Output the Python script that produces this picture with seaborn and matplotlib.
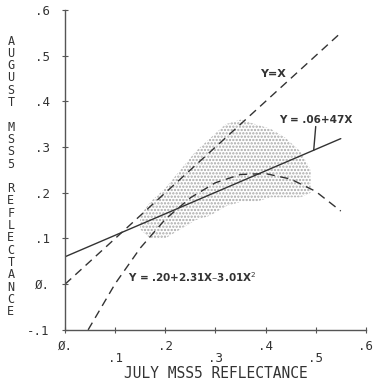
import numpy as np
import pandas as pd
import matplotlib
matplotlib.use("Agg")
import matplotlib.pyplot as plt
import seaborn as sns

# data
diag_x = [0.0, 0.55]
diag_y = [0.0, 0.55]

reg_x = [0.0, 0.55]
reg_y = [0.06, 0.06 + 0.47 * 0.55]

quad_x = [0.046, 0.10, 0.15, 0.20, 0.25, 0.30, 0.35, 0.40, 0.45, 0.50, 0.55]
quad_y = [-0.100, 0.001, 0.079, 0.142, 0.189, 0.222, 0.240, 0.242, 0.230, 0.203, 0.160]

# envelope of the stippled point cloud
stip_x = [0.15, 0.17, 0.20, 0.23, 0.26, 0.29, 0.32, 0.35, 0.38, 0.41, 0.44, 0.47, 0.49]
stip_lo = [0.12, 0.10, 0.10, 0.12, 0.14, 0.15, 0.17, 0.18, 0.18, 0.19, 0.19, 0.19, 0.20]
stip_hi = [0.15, 0.18, 0.21, 0.25, 0.29, 0.32, 0.35, 0.36, 0.35, 0.34, 0.32, 0.29, 0.25]

xticks = [0.0, 0.1, 0.2, 0.3, 0.4, 0.5, 0.6]
xticklabels = ["Ø.", "\n.1", ".2", "\n.3", ".4", "\n.5", ".6"]
yticks = [-0.1, 0.0, 0.1, 0.2, 0.3, 0.4, 0.5, 0.6]
yticklabels = ["-.1", "Ø.", ".1", ".2", ".3", ".4", ".5", ".6"]

sns.set_style("ticks")
plt.rcParams["hatch.linewidth"] = 1.1
mono = "DejaVu Sans Mono"
narrow = ["Liberation Sans Narrow", "DejaVu Sans"]
ink = "#333333"

fig = plt.figure(figsize=(3.76, 3.84), dpi=100)
ax = fig.add_axes([0.173, 0.141, 0.800, 0.833])

# stipple
ax.fill_between(stip_x, stip_lo, stip_hi, facecolor="none", edgecolor="#a8a8a8",
                hatch=".....", linewidth=0)

df_d = pd.DataFrame({"x": diag_x, "y": diag_y})
df_r = pd.DataFrame({"x": reg_x, "y": reg_y})
df_q = pd.DataFrame({"x": quad_x, "y": quad_y})
sns.lineplot(data=df_d, x="x", y="y", ax=ax, color=ink, lw=1.0, sort=False)
ax.lines[-1].set_dashes([6, 4])
sns.lineplot(data=df_r, x="x", y="y", ax=ax, color=ink, lw=1.0, sort=False)
sns.lineplot(data=df_q, x="x", y="y", ax=ax, color=ink, lw=1.0, sort=False)
ax.lines[-1].set_dashes([6, 4])

ax.set_xlim(0, 0.6)
ax.set_ylim(-0.1, 0.6)
sns.despine(ax=ax)
for s in ["left", "bottom"]:
    ax.spines[s].set_color("#555555")
    ax.spines[s].set_linewidth(1.0)

ax.set_xticks(xticks)
ax.set_xticklabels(xticklabels, fontfamily=mono, fontsize=9, color=ink, va="top", linespacing=0.95)
ax.set_yticks(yticks)
ax.set_yticklabels(yticklabels, fontfamily=mono, fontsize=9, color=ink)
ax.tick_params(axis="both", direction="inout", length=4, width=0.8, color="#555555")
ax.tick_params(axis="y", pad=9)
ax.tick_params(axis="x", pad=5)

ax.set_xlabel("JULY MSS5 REFLECTANCE", fontfamily=mono, fontsize=10.5, color=ink, labelpad=1)
ax.set_ylabel("\n".join("AUGUST MSS5 REFLECTANCE"), fontfamily=mono, fontsize=8.5,
              color=ink, rotation=0, linespacing=0.93, va="center", ha="center")
ax.yaxis.set_label_coords(-0.18, 0.48)

ax.text(0.414, 0.46, "Y=X", fontfamily=narrow, fontsize=8, fontweight="bold",
        color=ink, ha="center", va="center")
ax.text(0.50, 0.359, "Y = .06+47X", fontfamily=narrow, fontsize=7.5, fontweight="bold",
        color=ink, ha="center", va="center")
ax.plot([0.50, 0.496], [0.345, 0.293], color=ink, lw=1.0)
ax.text(0.126, 0.016, "Y = .20+2.31X\u20133.01X$^2$", fontfamily=narrow, fontsize=7.5,
        fontweight="bold", color=ink, ha="left", va="center")

fig.savefig("out.png", dpi=100)
